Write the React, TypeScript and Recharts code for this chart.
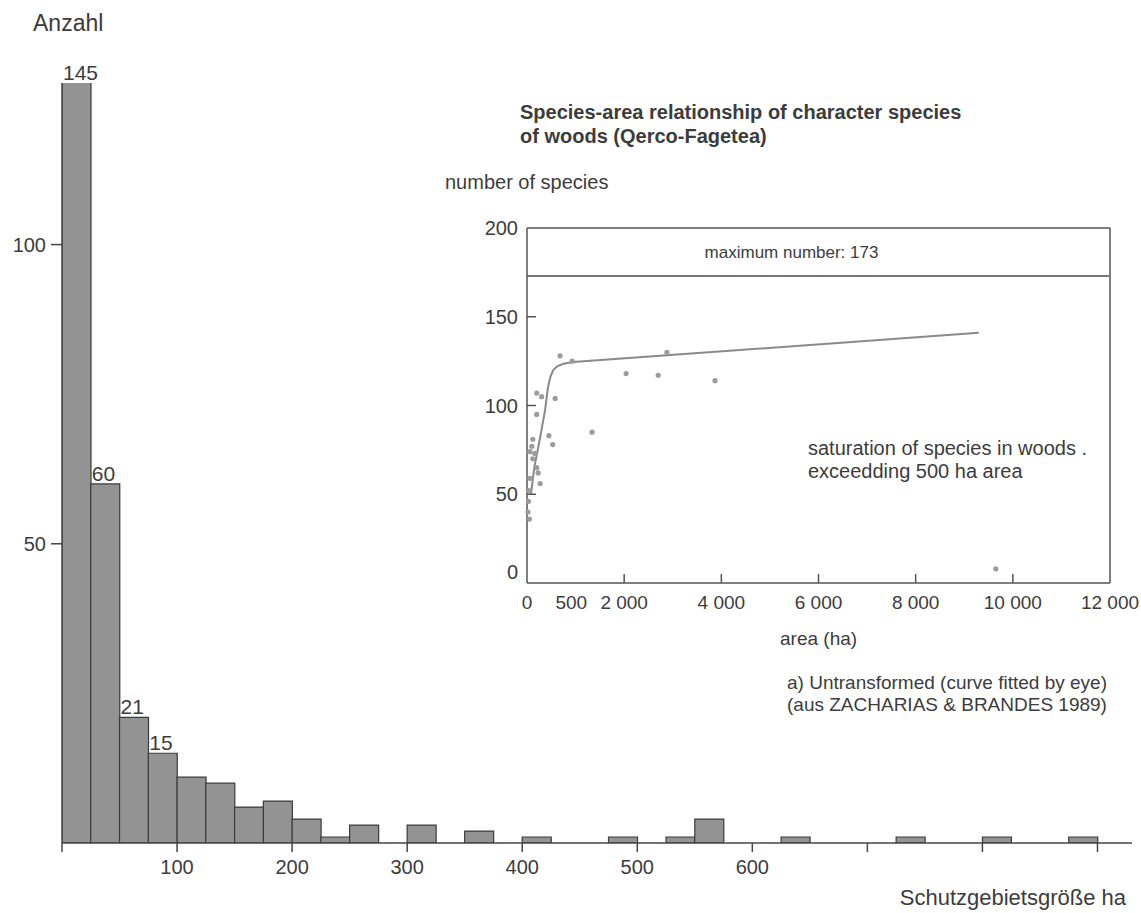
import React from "react";
import {
  BarChart, Bar, XAxis, YAxis, LabelList,
  ScatterChart, Scatter, ReferenceLine,
} from "recharts";

// Histogram: reserves per 25 ha size class (only classes with entries)
const binStarts = [0, 25, 50, 75, 100, 125, 150, 175, 200, 225, 250, 300, 350, 400, 475, 525, 550, 625, 725, 800, 875];
const binCounts = [145, 60, 21, 15, 11, 10, 6, 7, 4, 1, 3, 3, 2, 1, 1, 1, 4, 1, 1, 1, 1];
const countLabels = ["145", "60", "21", "15"];
const sizeTicks = [0, 100, 200, 300, 400, 500, 600, 700, 800, 900];
const countTicks = [50, 100];

// Inset: species-area relationship
const areaValues = [680, 930, 2040, 200, 300, 580, 200, 1340, 450, 530, 120, 100, 60, 160, 120, 200, 230, 60, 270, 2700, 3870, 2880, 40, 30, 20, 50, 9650];
const speciesValues = [128, 125, 118, 107, 105, 104, 95, 85, 83, 78, 81, 77, 74, 73, 70, 65, 62, 59, 56, 117, 114, 130, 52, 46, 40, 36, 8];
// curve fitted by eye
const curveArea = [80, 150, 270, 370, 430, 480, 540, 620, 750, 950, 9300];
const curveSpecies = [50, 65, 82, 97, 110, 116, 120, 122, 123.5, 124.5, 141];
const areaTicks = [0, 500, 2000, 4000, 6000, 8000, 10000, 12000];
const speciesTicks = [0, 50, 100, 150, 200];
const maxSpecies = 173;

const FONT = '"Liberation Sans", Arial, sans-serif';
const INK = "#3c3c3c";
const MAIN_TOP = 83;

const histData = binStarts.map((s, i) => ({
  mid: s + 12.5,
  count: binCounts[i],
  label: countLabels[i] ?? "",
}));

const points = areaValues.map((x, i) => ({ x, y: speciesValues[i] }));
const curve = curveArea.map((x, i) => ({ x, y: curveSpecies[i] }));

function barLabel(props: any) {
  const { x, y, value } = props;
  if (!value) return null;
  const top = Math.max(Number(y), MAIN_TOP);
  return (
    <text x={Number(x) + 1} y={top - 3} textAnchor="start" fontSize={21} fill={INK} fontFamily={FONT}>
      {value}
    </text>
  );
}

function maxLabel(props: any) {
  const { viewBox } = props;
  const cx = viewBox.x + viewBox.width / 2 - 27;
  return (
    <text x={cx} y={viewBox.y - 18} textAnchor="middle" fontSize={17} fill={INK} fontFamily={FONT}>
      {`maximum number: ${maxSpecies}`}
    </text>
  );
}

function fmtArea(v: number) {
  if (v < 1000) return String(v);
  const rest = String(v % 1000).padStart(3, "0");
  return `${Math.floor(v / 1000)} ${rest}`;
}

function AreaTick(props: any) {
  const { x, y, payload } = props;
  const v = payload.value as number;
  const showMark = v > 500 && v < 12000;
  return (
    <g>
      {showMark && <line x1={x} x2={x} y1={y} y2={y - 9} stroke="#555" strokeWidth={1.5} />}
      <text x={v === 500 ? x + 20 : x} y={y + 19} dy="0.35em" textAnchor="middle" fontSize={19} fill={INK} fontFamily={FONT}>
        {fmtArea(v)}
      </text>
    </g>
  );
}

function SpeciesTick(props: any) {
  const { x, y, payload } = props;
  const v = payload.value as number;
  return (
    <g>
      {v > 0 && v < 200 && <line x1={x} x2={x + 9} y1={y} y2={y} stroke="#555" strokeWidth={1.5} />}
      <text x={x - 9} y={v === 0 ? y - 11 : y} dy="0.35em" textAnchor="end" fontSize={20} fill={INK} fontFamily={FONT}>
        {v}
      </text>
    </g>
  );
}

const txt = (left: number, top: number, size: number, extra: React.CSSProperties = {}): React.CSSProperties => ({
  position: "absolute", left, top, fontSize: size, lineHeight: 1, color: INK, whiteSpace: "nowrap", ...extra,
});

export default function App() {
  return (
    <div style={{ position: "absolute", left: 0, top: 0, width: 1141, height: 913, background: "#fff", fontFamily: FONT, overflow: "hidden" }}>
      <div style={{ position: "absolute", left: 0, top: 0 }}>
        <BarChart width={1141} height={913} data={histData} margin={{ top: MAIN_TOP, right: 9, bottom: 30, left: 12 }} barCategoryGap={0}>
          <XAxis
            type="number"
            dataKey="mid"
            domain={[0, 930]}
            allowDataOverflow
            ticks={sizeTicks}
            tickFormatter={(v: number) => (v > 0 && v <= 600 ? String(v) : "")}
            tickSize={9}
            tickMargin={8}
            height={40}
            axisLine={{ stroke: "#444", strokeWidth: 1.5 }}
            tickLine={{ stroke: "#444", strokeWidth: 1.5 }}
            tick={{ fill: INK, fontSize: 20, fontFamily: FONT }}
          />
          <YAxis
            domain={[0, 127]}
            allowDataOverflow
            ticks={countTicks}
            width={50}
            tickSize={11}
            tickMargin={5}
            axisLine={{ stroke: "#444", strokeWidth: 1.5 }}
            tickLine={{ stroke: "#444", strokeWidth: 1.5 }}
            tick={{ fill: INK, fontSize: 20, fontFamily: FONT }}
          />
          <Bar dataKey="count" fill="#939393" stroke="#3a3a3a" strokeWidth={1.2} isAnimationActive={false}>
            <LabelList dataKey="label" content={barLabel} />
          </Bar>
        </BarChart>
      </div>

      <div style={{ position: "absolute", left: 440, top: 200 }}>
        <ScatterChart width={700} height={430} margin={{ top: 28, right: 30, bottom: 17, left: 42 }}>
          <XAxis
            type="number"
            dataKey="x"
            domain={[0, 12000]}
            ticks={areaTicks}
            tick={<AreaTick />}
            tickLine={false}
            tickSize={0}
            tickMargin={0}
            height={30}
            axisLine={{ stroke: "#555", strokeWidth: 1.5 }}
          />
          <YAxis
            type="number"
            dataKey="y"
            domain={[0, 200]}
            ticks={speciesTicks}
            tick={<SpeciesTick />}
            tickLine={false}
            tickSize={0}
            tickMargin={0}
            width={45}
            axisLine={{ stroke: "#555", strokeWidth: 1.5 }}
          />
          <ReferenceLine y={200} stroke="#555" strokeWidth={1.5} />
          <ReferenceLine x={12000} stroke="#555" strokeWidth={1.5} />
          <ReferenceLine y={maxSpecies} stroke="#777" strokeWidth={2} label={maxLabel} />
          <Scatter
            data={curve}
            line={{ stroke: "#8a8a8a", strokeWidth: 2 }}
            lineJointType="linear"
            shape={() => <g />}
            isAnimationActive={false}
          />
          <Scatter
            data={points}
            shape={(p: any) => <circle cx={p.cx} cy={p.cy} r={2.6} fill="#9c9c9c" />}
            isAnimationActive={false}
          />
        </ScatterChart>
      </div>

      <div style={txt(33, 12, 23)}>Anzahl</div>
      <div style={txt(1126, 887, 22, { transform: "translateX(-100%)" })}>Schutzgebietsgröße ha</div>

      <div style={txt(520, 100, 20, { fontWeight: "bold", lineHeight: "24px" })}>
        Species-area relationship of character species
        <br />
        of woods (Qerco-Fagetea)
      </div>
      <div style={txt(445, 172, 20)}>number of species</div>
      <div style={txt(808, 437, 20, { lineHeight: "23px" })}>
        saturation of species in woods .
        <br />
        exceedding 500 ha area
      </div>
      <div style={txt(780, 629, 19)}>area (ha)</div>
      <div style={txt(787, 672, 19, { lineHeight: "22px" })}>
        a) Untransformed (curve fitted by eye)
        <br />
        (aus ZACHARIAS &amp; BRANDES 1989)
      </div>
    </div>
  );
}
